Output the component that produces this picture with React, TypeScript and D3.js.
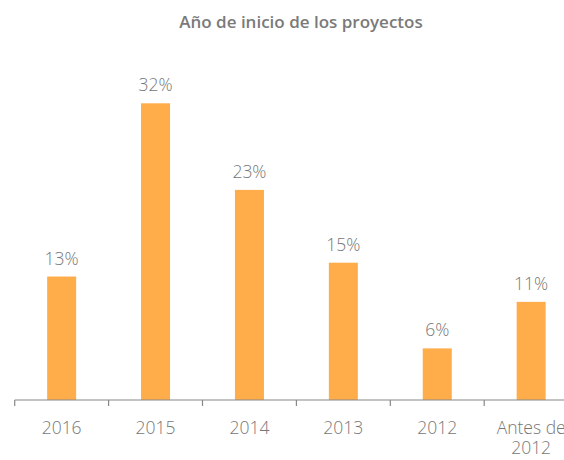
import React from "react";
import * as d3 from "d3";

const categories: string[][] = [["2016"], ["2015"], ["2014"], ["2013"], ["2012"], ["Antes de", "2012"]];
const values: number[] = [13.4, 32.2, 22.8, 14.9, 5.6, 10.65];
const title = "Año de inicio de los proyectos";

const W = 564;
const H = 460;
const baseY = 400;
const left = 14.7;
const step = 93.9;

export default function App() {
  const x = d3
    .scaleBand<number>()
    .domain(d3.range(categories.length))
    .range([left, left + step * categories.length])
    .paddingInner(0)
    .paddingOuter(0);
  const y = d3.scaleLinear().domain([0, 32.2]).range([baseY, 103.3]);
  const barW = 29;
  const font = "'Open Sans', 'Noto Sans', sans-serif";
  const ticks = d3.range(categories.length).map((i) => x(i)!);
  return (
    <svg width={W} height={H} style={{ position: "absolute", left: 0, top: 0 }}>
      <text x={301} y={28} textAnchor="middle" fontFamily={font} fontSize={17} fontWeight={600} fill="#7a7a7a">
        {title}
      </text>
      {values.map((v, i) => {
        const cx = x(i)! + x.bandwidth() / 2;
        return (
          <g key={i}>
            <rect x={cx - barW / 2} y={y(v)} width={barW} height={baseY - y(v)} fill="#FFAC4A" />
            <text x={cx} y={y(v) - 12} textAnchor="middle" fontFamily={font} fontWeight={300} fontSize={17.5} fill="#777">
              {d3.format(".0f")(Math.round(v)) + "%"}
            </text>
          </g>
        );
      })}
      <line x1={left} x2={W} y1={baseY} y2={baseY} stroke="#888" strokeWidth={1.2} />
      {ticks.map((t, i) => (
        <line key={i} x1={t} x2={t} y1={baseY} y2={baseY + 6} stroke="#888" strokeWidth={1.2} />
      ))}
      {categories.map((c, i) => {
        const cx = x(i)! + x.bandwidth() / 2;
        return c.map((line, j) => (
          <text
            key={i + "-" + j}
            x={cx}
            y={433.5 + j * 20}
            textAnchor="middle"
            fontFamily={font}
            fontWeight={300}
            fontSize={17.5}
            fill="#777"
          >
            {line}
          </text>
        ));
      })}
    </svg>
  );
}
